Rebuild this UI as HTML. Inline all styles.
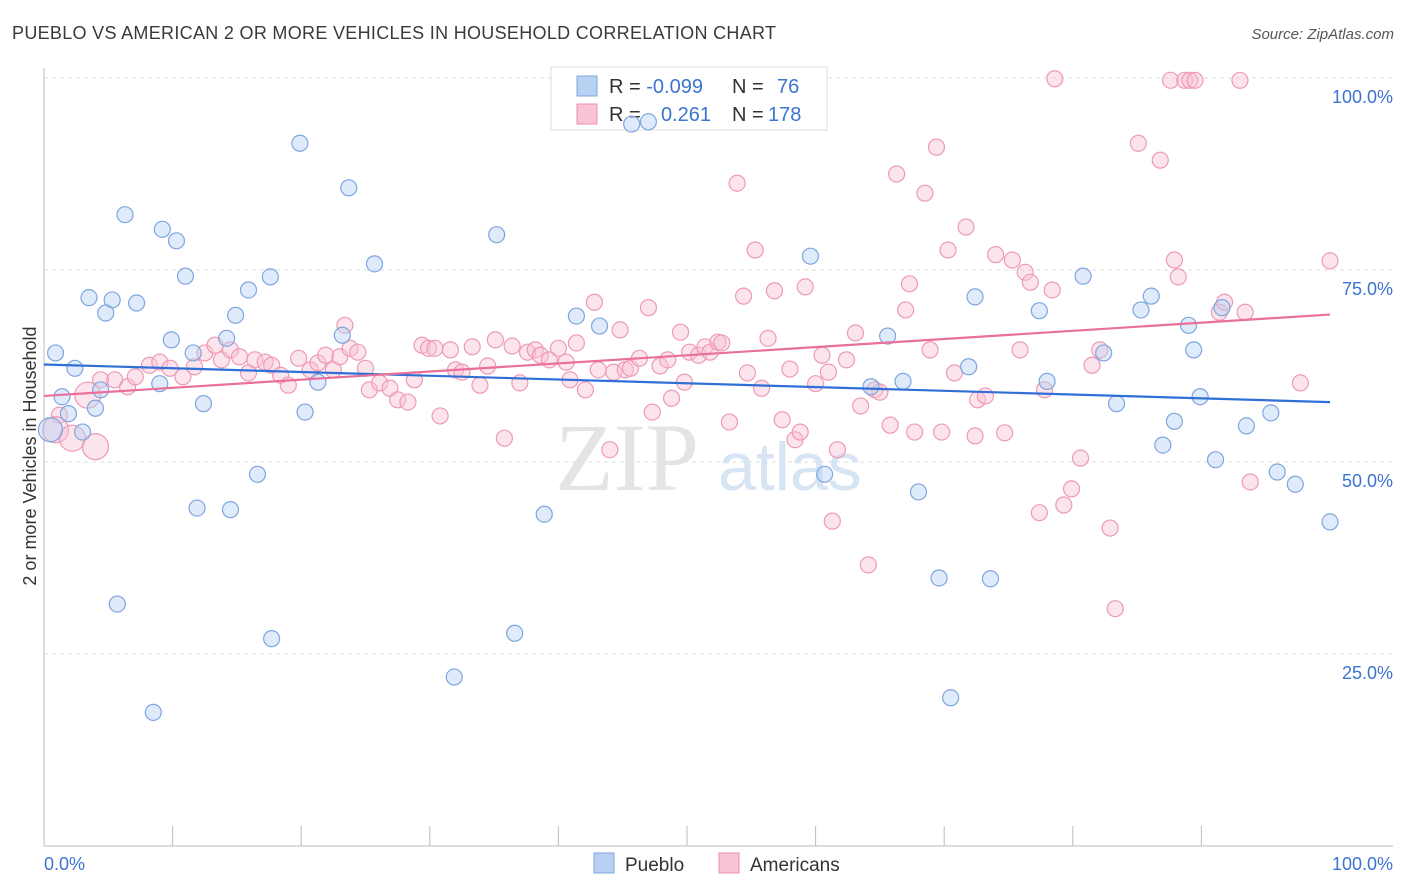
<!DOCTYPE html>
<html><head><meta charset="utf-8">
<style>
body{margin:0;background:#fff;font-family:"Liberation Sans",sans-serif;}
#wrap{position:relative;width:1406px;height:892px;overflow:hidden;}
</style></head>
<body>
<div id="wrap">
<svg id="svg" width="1406" height="892" xmlns="http://www.w3.org/2000/svg">
<text x="12" y="39" font-size="18" fill="#3a3a3a" textLength="764">PUEBLO VS AMERICAN 2 OR MORE VEHICLES IN HOUSEHOLD CORRELATION CHART</text>
<text x="1394" y="39" font-size="15" fill="#555" font-style="italic" text-anchor="end">Source: ZipAtlas.com</text>
<text x="36" y="456" font-size="18" fill="#333" text-anchor="middle" transform="rotate(-90 36 456)">2 or more Vehicles in Household</text>
<g id="grid"></g>
<text x="555" y="490" font-size="96" fill="#e4e4e4" font-family="Liberation Serif,serif">ZIP</text>
<text x="718" y="490" font-size="68" fill="#d6e4f4">atlas</text>
<g>
<rect x="551" y="67" width="276" height="63" fill="#fff" stroke="#ddd"/>
<rect x="577" y="76" width="20" height="20" fill="#b8d1f3" stroke="#7ea6e0"/>
<rect x="577" y="104" width="20" height="20" fill="#f9c4d4" stroke="#ec8fad"/>
<text x="609" y="93" font-size="20" fill="#333">R = <tspan fill="#3b74d1">-0.099</tspan><tspan x="732">N = </tspan><tspan x="777" fill="#3b74d1">76</tspan></text>
<text x="609" y="121" font-size="20" fill="#333">R = <tspan x="661" fill="#3b74d1">0.261</tspan><tspan x="732">N = </tspan><tspan x="768" fill="#3b74d1">178</tspan></text>
</g>
<g id="pts"></g>
<g id="lines"></g>
<g>
<rect x="594" y="853" width="20" height="20" fill="#b8d1f3" stroke="#7ea6e0"/>
<text x="625" y="871" font-size="19" fill="#333">Pueblo</text>
<rect x="719" y="853" width="20" height="20" fill="#f9c4d4" stroke="#ec8fad"/>
<text x="750" y="871" font-size="19" fill="#333">Americans</text>
</g>
</svg>
</div>
<script>
const yTicks=[25,50,75,100];
const yTickLabels=["25.0%","50.0%","75.0%","100.0%"];
const xTicks=[0,10,20,30,40,50,60,70,80,90,100];
const xEndLabels=["0.0%","100.0%"];
const puebloPx=[[55,353],[62,397],[75,368],[68,414],[95,408],[83,432],[100,390],[89,298],[112,300],[106,313],[136,303],[125,215],[162,229],[177,241],[186,276],[171,340],[160,384],[117,604],[153,712],[197,508],[230,510],[204,404],[193,353],[226,338],[235,315],[248,290],[270,277],[258,474],[271,639],[300,143],[349,188],[305,412],[318,382],[342,335],[374,264],[497,235],[544,514],[515,633],[454,677],[576,316],[600,326],[632,124],[648,122],[810,256],[825,474],[887,336],[871,387],[903,381],[918,492],[939,578],[951,698],[969,367],[975,297],[990,579],[1039,311],[1047,381],[1083,276],[1104,353],[1116,404],[1141,310],[1151,296],[1163,445],[1174,421],[1188,325],[1194,350],[1200,397],[1215,460],[1222,308],[1246,426],[1271,413],[1277,472],[1295,484],[1330,522]];
const americanPx=[[60,415],[100,380],[115,380],[127,387],[135,377],[150,365],[160,362],[170,368],[183,377],[195,367],[205,353],[215,345],[222,360],[230,350],[240,357],[248,373],[255,360],[265,362],[272,365],[280,375],[288,385],[298,358],[310,370],[318,363],[325,355],[333,370],[340,357],[345,325],[350,348],[358,352],[365,368],[370,390],[380,383],[390,388],[398,400],[408,402],[415,380],[422,345],[428,348],[435,348],[440,416],[450,350],[455,370],[462,372],[472,347],[480,385],[488,366],[496,340],[505,438],[512,346],[520,383],[528,352],[535,350],[540,355],[550,360],[558,348],[566,362],[570,380],[576,343],[585,390],[595,302],[598,370],[610,450],[614,372],[620,330],[625,370],[630,368],[640,358],[648,308],[652,412],[660,366],[668,360],[672,398],[680,332],[685,382],[690,352],[698,355],[705,347],[710,352],[718,342],[722,343],[730,422],[737,183],[743,296],[748,373],[755,250],[762,388],[768,338],[775,291],[782,420],[790,369],[795,440],[800,432],[805,287],[815,384],[822,355],[828,372],[832,521],[838,450],[846,360],[855,333],[860,406],[868,565],[875,390],[880,392],[890,425],[897,174],[905,310],[910,284],[915,432],[925,193],[930,350],[936,147],[942,432],[948,250],[955,373],[966,227],[975,436],[978,400],[985,396],[995,255],[1005,433],[1012,260],[1020,350],[1025,272],[1030,282],[1040,513],[1045,390],[1052,290],[1055,79],[1064,505],[1072,489],[1080,458],[1092,365],[1100,350],[1110,528],[1115,609],[1138,143],[1160,160],[1170,80],[1175,260],[1178,277],[1185,80],[1190,80],[1195,80],[1220,312],[1225,302],[1240,80],[1245,312],[1250,482],[1300,383],[1330,261]];
const puebloBig=[[50,430]];
const americanBig=[[55,430],[72,438],[95,447],[88,395]];
function toData(a){return a.map(p=>[+((p[0]-44)/12.86).toFixed(1),+((846-p[1])/7.68).toFixed(1)]);}
const puebloX=toData(puebloPx).map(d=>d[0]), puebloY=toData(puebloPx).map(d=>d[1]);
const americanX=toData(americanPx).map(d=>d[0]), americanY=toData(americanPx).map(d=>d[1]);
const puebloBigData=toData(puebloBig), americanBigData=toData(americanBig);
const puebloTrend=[62.7,57.8];
const americanTrend=[58.6,69.2];

const X=v=>44+v*12.86, Y=v=>846-v*7.68;
const NS="http://www.w3.org/2000/svg";
function mk(tag,attrs,parent){const e=document.createElementNS(NS,tag);for(const k in attrs)e.setAttribute(k,attrs[k]);parent.appendChild(e);return e;}
const grid=document.getElementById('grid');
let ax=mk('line',{x1:44,y1:68,x2:44,y2:846,stroke:'#bbb'},grid);


let bx=mk('line',{x1:44,y1:846,x2:1393,y2:846,stroke:'#bbb'},grid);


yTicks.forEach((t,i)=>{
  let l=mk('line',{x1:44,y1:Y(t),x2:1393,y2:Y(t),stroke:'#ddd','stroke-dasharray':'4,4'},grid);
  
  
  let tx=mk('text',{x:1393,y:Y(t)+25,'font-size':18,fill:'#3b74d1','text-anchor':'end'},grid);tx.textContent=yTickLabels[i];
  
  
});
xTicks.forEach(t=>{
  let l=mk('line',{x1:X(t),y1:846,x2:X(t),y2:(t>0&&t<100)?826:846,stroke:'#bbb'},grid);
  
  
});
let x0=mk('text',{x:44,y:870,'font-size':18,fill:'#3b74d1'},grid);x0.textContent=xEndLabels[0];


let x1=mk('text',{x:1393,y:870,'font-size':18,fill:'#3b74d1','text-anchor':'end'},grid);x1.textContent=xEndLabels[1];



const pts=document.getElementById('pts');
function dot(x,y,r,fill,stroke,name){
  const c=mk('circle',{cx:X(x),cy:Y(y),r:r,fill:fill,stroke:stroke,'stroke-width':1.2},pts);
  
  
}
americanX.forEach((x,i)=>dot(x,americanY[i],8,'rgba(249,196,212,0.45)','#ee9ab4','american-point'));
americanBigData.forEach(d=>dot(d[0],d[1],13,'rgba(249,196,212,0.45)','#ee9ab4','american-point'));
puebloX.forEach((x,i)=>dot(x,puebloY[i],8,'rgba(184,209,243,0.45)','#7ea6e0','pueblo-point'));
puebloBigData.forEach(d=>dot(d[0],d[1],12,'rgba(184,209,243,0.45)','#7ea6e0','pueblo-point'));
const lines=document.getElementById('lines');
let pl=mk('line',{x1:X(0),y1:Y(puebloTrend[0]),x2:X(100),y2:Y(puebloTrend[1]),stroke:'#2f6fd6','stroke-width':2.2},lines);


let al=mk('line',{x1:X(0),y1:Y(americanTrend[0]),x2:X(100),y2:Y(americanTrend[1]),stroke:'#e8709a','stroke-width':2.2},lines);


</script>
</body></html>
